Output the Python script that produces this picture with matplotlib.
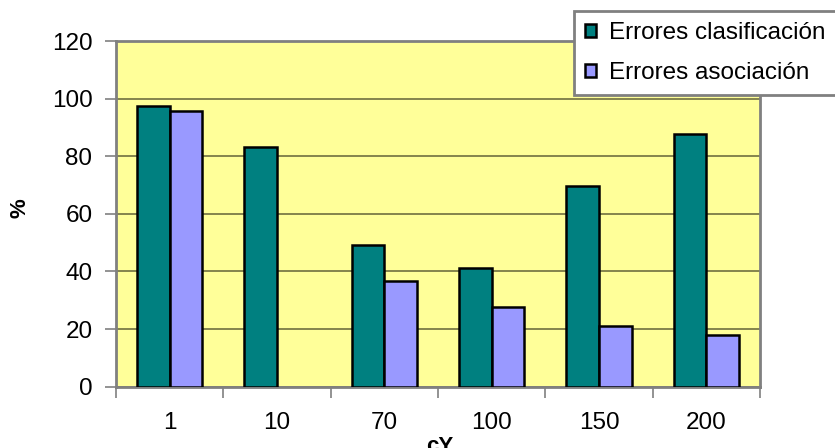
import matplotlib.pyplot as plt
import numpy as np

# cY values on the x axis and error percentages per series
categorias = ["1", "10", "70", "100", "150", "200"]
err_clasif = [97.3, 83.3, 49.2, 41.1, 69.6, 87.6]
err_asoc = [95.8, 0, 36.6, 27.8, 20.9, 17.9]
y_ticks = [0, 20, 40, 60, 80, 100, 120]

plt.rcParams['font.family'] = ['Liberation Sans', 'DejaVu Sans']

fig = plt.figure(figsize=(8.35, 4.48), dpi=100)
ax = fig.add_axes([116/835, 1-386.7/448, (760-116)/835, (386.7-41)/448])
ax.set_facecolor('#FFFF99')

x = np.arange(len(categorias))
w = 0.303
b1 = ax.bar(x - w/2, err_clasif, w, color='#008080', edgecolor='black', linewidth=1.8,
            label='Errores clasificación', zorder=3)
b2 = ax.bar(x + w/2, err_asoc, w, color='#9999FF', edgecolor='black', linewidth=1.8,
            label='Errores asociación', zorder=3)
# empty bars get no outline
for p in list(b1) + list(b2):
    if p.get_height() == 0:
        p.set_visible(False)

ax.set_xlim(-0.5, len(categorias) - 0.5)
ax.set_ylim(0, 120)
ax.set_yticks(y_ticks)
ax.tick_params(axis='y', labelsize=17.5, length=8, width=1.2, color='#808080', pad=9)
# x ticks at the category boundaries, labels centred between them
ax.set_xticks(np.arange(len(categorias) + 1) - 0.5)
ax.set_xticklabels([])
ax.set_xticks(x, minor=True)
ax.set_xticklabels(categorias, minor=True, fontsize=17.5)
ax.tick_params(axis='x', which='major', length=8, width=1.2, color='#808080')
ax.tick_params(axis='x', which='minor', length=0, pad=18.5)

ax.grid(axis='y', color='#6f6f40', linewidth=1.2, zorder=1)
ax.set_axisbelow(True)
for s in ax.spines.values():
    s.set_color('#808080')
    s.set_linewidth(2)

fig.text(20/835, 1-208/448, '%', rotation=90, fontsize=16, fontweight='bold',
         ha='center', va='center')
fig.text(440/835, 1-436/448, 'cY', fontsize=16, fontweight='bold',
         ha='center', va='top')

leg = fig.legend(loc='upper left', bbox_to_anchor=(574/835, 1-11/448),
                 fontsize=17.5, frameon=True, fancybox=False, framealpha=1,
                 handlelength=0.45, handleheight=0.45, handletextpad=0.55,
                 borderpad=0.45, labelspacing=0.75, borderaxespad=0)
leg.get_frame().set_edgecolor('#808080')
leg.get_frame().set_linewidth(2)
for h in leg.legend_handles:
    h.set_linewidth(1.8)

fig.savefig('out.png', dpi=100)
